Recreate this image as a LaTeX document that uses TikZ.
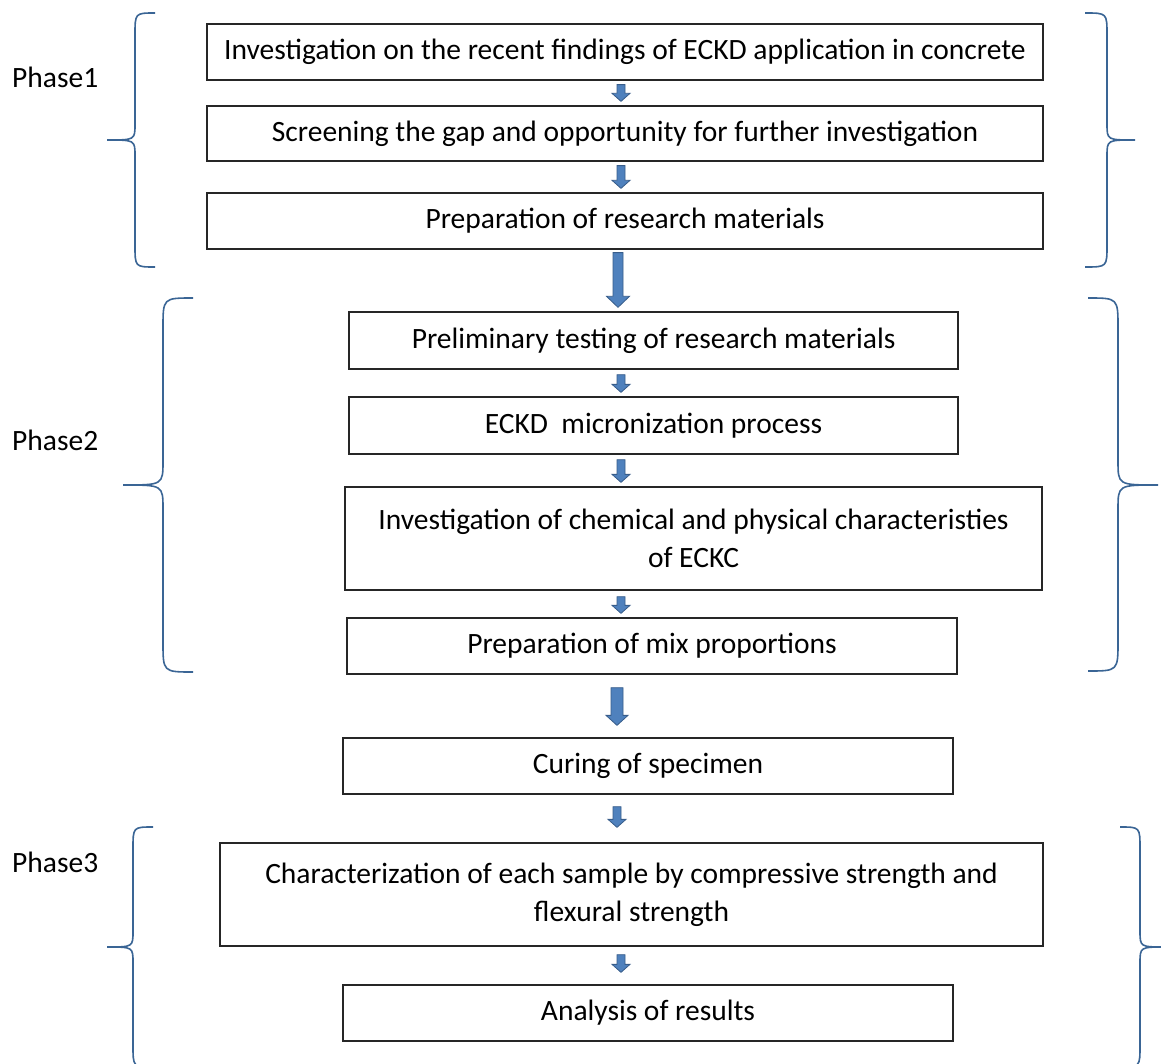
\documentclass[tikz,border=0pt]{standalone}
\usepackage{fontspec}
\setmainfont{Carlito}
\usetikzlibrary{calc}
\definecolor{arrfill}{HTML}{4F81BD}
\definecolor{arrline}{HTML}{385D8A}
\definecolor{bracec}{HTML}{3A6595}
\tikzset{
  stepbox/.style={draw=black!85, line width=1.3pt, inner sep=0pt, align=center,
     font=\fontsize{29.5}{38}\selectfont},
  phaselbl/.style={anchor=base west, inner sep=0pt, font=\fontsize{29.5}{34}\selectfont},
  arrowst/.style={fill=arrfill, draw=arrline, line width=0.8pt, line join=miter},
  bracest/.style={draw=bracec, line width=1.6pt}
}
% #1 from node, #2 to node, #3 x coordinate, #4 half shaft, #5 half head, #6 head length, #7 top gap, #8 bottom gap
\newcommand{\blockarr}[8]{%
  \filldraw[arrowst] let \p0=(#3), \p1=(#1.south), \p2=(#2.north) in
   ({\x0-#4},{\y1-#7}) -- ({\x0-#4},{\y2+#8+#6}) -- ({\x0-#5},{\y2+#8+#6}) --
   ({\x0},{\y2+#8}) -- ({\x0+#5},{\y2+#8+#6}) -- ({\x0+#4},{\y2+#8+#6}) --
   ({\x0+#4},{\y1-#7}) -- cycle;}
% brace: #1 end x, #2 spine x, #3 tip x, #4 top y, #5 tip y, #6 bottom y, #7 end radius, #8 tip radius
\newcommand{\curlybrace}[8]{%
  \draw[bracest] (#1,#4) .. controls (#2,#4) .. (#2,#4+#7) -- (#2,#5-#8)
    .. controls (#2,#5) .. (#3,#5) .. controls (#2,#5) .. (#2,#5+#8)
    -- (#2,#6-#7) .. controls (#2,#6) .. (#1,#6);}
\begin{document}
\begin{tikzpicture}[x=1pt,y=-1pt]
\useasboundingbox[fill=white] (0,0) rectangle (1161,1064);

\node[stepbox, minimum width=836pt, minimum height=56pt] (b1) at (625,52)
  {Investigation on the recent findings of ECKD application in concrete};
\node[stepbox, minimum width=836pt, minimum height=55pt] (b2) at (625,133.5)
  {Screening the gap and opportunity for further investigation};
\node[stepbox, minimum width=836pt, minimum height=56pt] (b3) at (625,221)
  {Preparation of research materials};
\node[stepbox, minimum width=609pt, minimum height=57pt] (b4) at (653.5,340.5)
  {Preliminary testing of research materials};
\node[stepbox, minimum width=609pt, minimum height=57pt] (b5) at (653.5,425.5)
  {ECKD\ \ micronization process};
\node[stepbox, minimum width=697pt, minimum height=103pt] (b6) at (693.5,538.5)
  {Investigation of chemical and physical characteristies\\of ECKC};
\node[stepbox, minimum width=610pt, minimum height=56pt] (b7) at (652,646)
  {Preparation of mix proportions};
\node[stepbox, minimum width=610pt, minimum height=56pt] (b8) at (648,766)
  {Curing of specimen};
\node[stepbox, minimum width=823pt, minimum height=103pt] (b9) at (631.5,894.5)
  {Characterization of each sample by compressive strength and\\flexural strength};
\node[stepbox, minimum width=610pt, minimum height=56pt] (b10) at (648,1013)
  {Analysis of results};

\node[phaselbl] (p1) at (12,88) {Phase1};
\node[phaselbl] (p2) at (12,450) {Phase2};
\node[phaselbl] (p3) at (12,872) {Phase3};

\coordinate (xa) at (621,0);
\coordinate (xb) at (618,0);
\coordinate (xc) at (617,0);

\blockarr{b1}{b2}{xa}{4pt}{9pt}{8pt}{4pt}{4pt}
\blockarr{b2}{b3}{xa}{4pt}{9pt}{8pt}{4pt}{4pt}
\blockarr{b3}{b4}{xb}{5pt}{11.5pt}{11pt}{3pt}{4pt}
\blockarr{b4}{b5}{xa}{4pt}{9pt}{8pt}{5pt}{4pt}
\blockarr{b5}{b6}{xa}{4pt}{9pt}{8pt}{5pt}{4pt}
\blockarr{b6}{b7}{xa}{4pt}{9pt}{8pt}{6pt}{4pt}
\blockarr{b7}{b8}{xc}{6pt}{11pt}{10pt}{13pt}{12pt}
\blockarr{b8}{b9}{xc}{4pt}{9pt}{8pt}{12pt}{15pt}
\blockarr{b9}{b10}{xa}{4pt}{9pt}{8pt}{8pt}{12pt}

\curlybrace{155}{135}{107}{13}{140}{267}{22}{16}
\curlybrace{1085}{1107}{1135}{13}{140}{267}{22}{16}
\curlybrace{193}{163}{123}{298}{485}{672}{30}{24}
\curlybrace{1088}{1118}{1158}{298}{485}{671}{30}{24}
\curlybrace{153}{133}{107}{827}{947}{1067}{22}{16}
\curlybrace{1120}{1140}{1166}{827}{947}{1067}{22}{16}
\end{tikzpicture}
\end{document}
